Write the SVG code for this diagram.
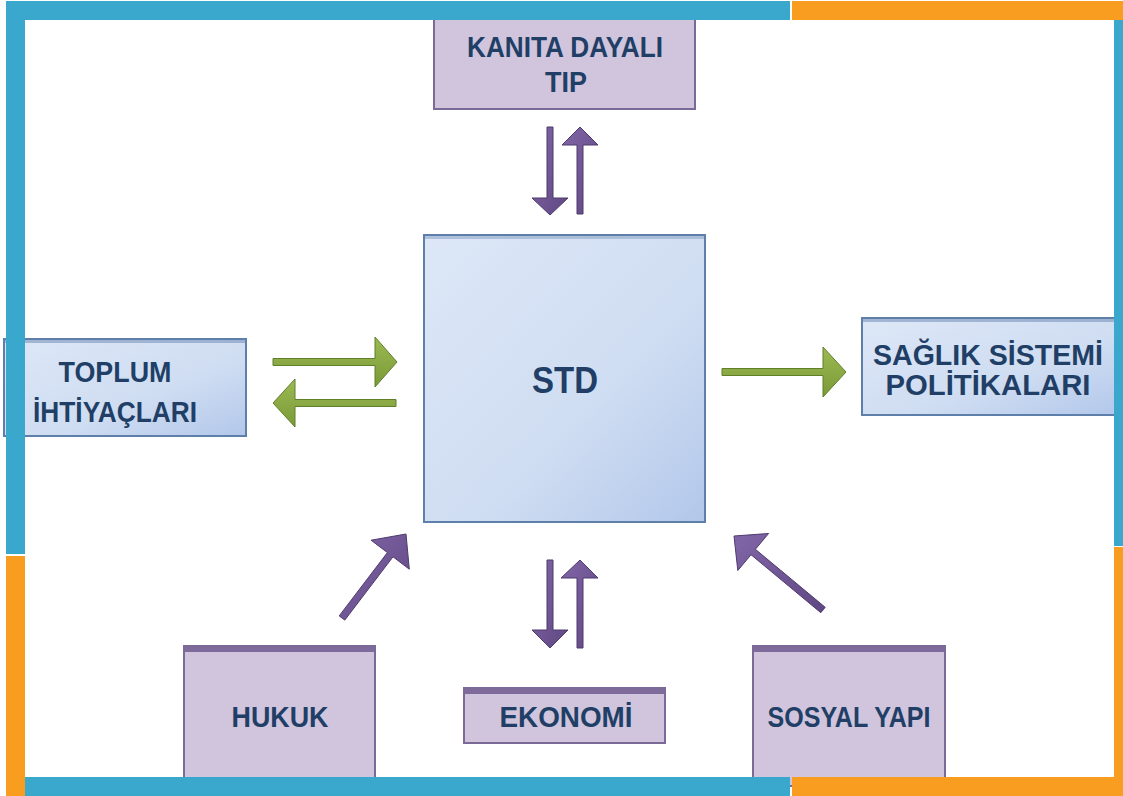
<svg xmlns="http://www.w3.org/2000/svg" width="1123" height="796" viewBox="0 0 1123 796">
<defs>
<style>
.lbl{font-family:"Liberation Sans",Arial,sans-serif;font-weight:bold;fill:#213f66;text-anchor:middle}
.pbox{fill:#d0c5dd;stroke:#7b6a98;stroke-width:2}
.bbox{fill:url(#bg);stroke:#5f7fab;stroke-width:2}
.parr{fill:url(#pg);stroke:#4f3b6d;stroke-width:1}
.garr{fill:url(#gg);stroke:#5f7f28;stroke-width:1}
.blue{fill:#3aa8cd}
.orange{fill:#f89d1f}
</style>
<linearGradient id="bg" x1="0" y1="0" x2="1" y2="1">
<stop offset="0" stop-color="#dde7f7"/>
<stop offset="0.6" stop-color="#cfddf2"/>
<stop offset="1" stop-color="#b2c7ea"/>
</linearGradient>
<linearGradient id="pg" x1="0" y1="0" x2="1" y2="1">
<stop offset="0" stop-color="#8266a8"/>
<stop offset="1" stop-color="#5f4882"/>
</linearGradient>
<linearGradient id="gg" x1="0" y1="0" x2="0" y2="1">
<stop offset="0" stop-color="#9cba52"/>
<stop offset="1" stop-color="#7a9a38"/>
</linearGradient>
</defs>
<rect width="1123" height="796" fill="#ffffff"/>

<g id="node-toplum">
<rect class="bbox" x="4" y="339" width="242" height="97"/>
<rect x="5" y="340" width="240" height="3" fill="#7a95bd" opacity="0.6"/>
<text class="lbl" x="115" y="382" font-size="29" textLength="113" lengthAdjust="spacingAndGlyphs">TOPLUM</text>
<text class="lbl" x="115" y="422" font-size="29" textLength="164" lengthAdjust="spacingAndGlyphs">İHTİYAÇLARI</text>
</g>

<g id="node-kanita">
<rect class="pbox" x="434" y="14" width="261" height="95"/>
<text class="lbl" x="565" y="57" font-size="30" textLength="196" lengthAdjust="spacingAndGlyphs">KANITA DAYALI</text>
<text class="lbl" x="566" y="92" font-size="30" textLength="42" lengthAdjust="spacingAndGlyphs">TIP</text>
</g>

<g id="node-std">
<rect class="bbox" x="424" y="235" width="281" height="287"/>
<rect x="425" y="236" width="279" height="3" fill="#8fa6c8" opacity="0.6"/>
<text class="lbl" x="565" y="393" font-size="37" textLength="66" lengthAdjust="spacingAndGlyphs">STD</text>
</g>

<g id="node-saglik">
<rect class="bbox" x="862" y="318" width="256" height="97"/>
<rect x="863" y="319" width="254" height="3" fill="#7a95bd" opacity="0.6"/>
<text class="lbl" x="988" y="365" font-size="29" textLength="230" lengthAdjust="spacingAndGlyphs">SAĞLIK SİSTEMİ</text>
<text class="lbl" x="988" y="395" font-size="29" textLength="205" lengthAdjust="spacingAndGlyphs">POLİTİKALARI</text>
</g>

<g id="node-hukuk">
<rect class="pbox" x="184" y="646" width="191" height="140"/>
<rect x="185" y="647" width="189" height="5" fill="#7e6b9b"/>
<text class="lbl" x="280" y="727" font-size="29" textLength="97" lengthAdjust="spacingAndGlyphs">HUKUK</text>
</g>

<g id="node-ekonomi">
<rect class="pbox" x="464" y="688" width="201" height="55"/>
<rect x="465" y="689" width="199" height="5" fill="#7e6b9b"/>
<text class="lbl" x="566" y="727" font-size="29" textLength="133" lengthAdjust="spacingAndGlyphs">EKONOMİ</text>
</g>

<g id="node-sosyal">
<rect class="pbox" x="753" y="646" width="192" height="140"/>
<rect x="754" y="647" width="190" height="5" fill="#7e6b9b"/>
<text class="lbl" x="849" y="727" font-size="29" textLength="163" lengthAdjust="spacingAndGlyphs">SOSYAL YAPI</text>
</g>

<g id="connectors">
<polygon class="parr" points="547,127 553,127 553,198 568,198 550,215 532,198 547,198"/>
<polygon class="parr" points="577,214 583,214 583,145 598,145 580,127 562,145 577,145"/>
<polygon class="parr" points="547,560 553,560 553,630 568,630 550,648 532,630 547,630"/>
<polygon class="parr" points="577,648 583,648 583,578 598,578 580,560 561,578 577,578"/>
<polygon class="parr" points="339.2,615.9 387.4,552.6 371.1,540.2 406,534 409.3,569.2 393,556.8 344.8,620.1"/>
<polygon class="parr" points="825.2,607.3 755.4,549.3 768.6,533.5 734,536 737.8,570.5 751,554.7 820.8,612.7"/>
<polygon class="garr" points="273,358.5 375,358.5 375,337 397,362 375,387 375,365.5 273,365.5"/>
<polygon class="garr" points="396,399.5 295,399.5 295,379 273,403 295,427 295,406.5 396,406.5"/>
<polygon class="garr" points="722,368.5 823,368.5 823,347 846,372 823,397 823,375.5 722,375.5"/>
</g>

<g id="frame">
<rect class="blue" x="6" y="1" width="784" height="19"/>
<rect class="orange" x="792" y="1" width="331" height="19"/>
<rect class="blue" x="6" y="1" width="19" height="553"/>
<rect class="orange" x="6" y="556" width="19" height="240"/>
<rect class="blue" x="25" y="777" width="765" height="19"/>
<rect class="orange" x="792" y="777" width="331" height="19"/>
<rect class="blue" x="1114" y="20" width="9" height="526"/>
<rect class="orange" x="1114" y="547" width="9" height="249"/>
</g>
</svg>
